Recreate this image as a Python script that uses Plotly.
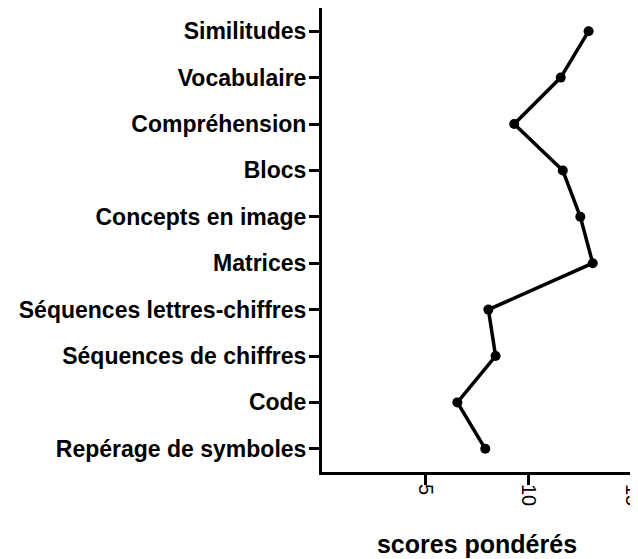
import plotly.graph_objects as go

categories = ["Similitudes", "Vocabulaire", "Compréhension", "Blocs",
              "Concepts en image", "Matrices", "Séquences lettres-chiffres",
              "Séquences de chiffres", "Code", "Repérage de symboles"]
scores = [12.9, 11.55, 9.3, 11.65, 12.5, 13.1, 8.05, 8.4, 6.55, 7.9]
x_ticks = [5, 10, 15]
x_title = "scores pondérés"

fig = go.Figure()
fig.add_trace(go.Scatter(
    x=scores, y=categories, mode="lines+markers",
    line=dict(color="black", width=3.5),
    marker=dict(color="black", size=10, symbol="circle"),
    showlegend=False, cliponaxis=False,
))

font_fam = "Arial, Liberation Sans, sans-serif"
fig.update_layout(
    width=630, height=551,
    margin=dict(l=314, r=6, t=0, b=87),
    plot_bgcolor="white", paper_bgcolor="white",
    xaxis=dict(
        range=[0, 15], tickvals=x_ticks, ticktext=[str(v) for v in x_ticks],
        tickangle=90, ticks="outside", ticklen=10, tickwidth=3, tickcolor="black",
        showline=True, linewidth=3, linecolor="black", showgrid=False, zeroline=False,
        automargin=False, ticklabelstandoff=-5, ticklabeloverflow="allow",
        tickfont=dict(family=font_fam, size=20, color="black"),
        title=dict(text="<b>" + x_title + "</b>", font=dict(family=font_fam, size=25, color="black"), standoff=31),
    ),
    yaxis=dict(
        type="category", categoryorder="array", categoryarray=categories,
        range=[9.5, -0.5], automargin=False, ticklabelstandoff=-2,
        ticks="outside", ticklen=10, tickwidth=3, tickcolor="black",
        showline=True, linewidth=3, linecolor="black", showgrid=False, zeroline=False,
        tickfont=dict(family=font_fam, size=23, color="black", weight="bold"),
    ),
)
fig.write_html("out.html")
